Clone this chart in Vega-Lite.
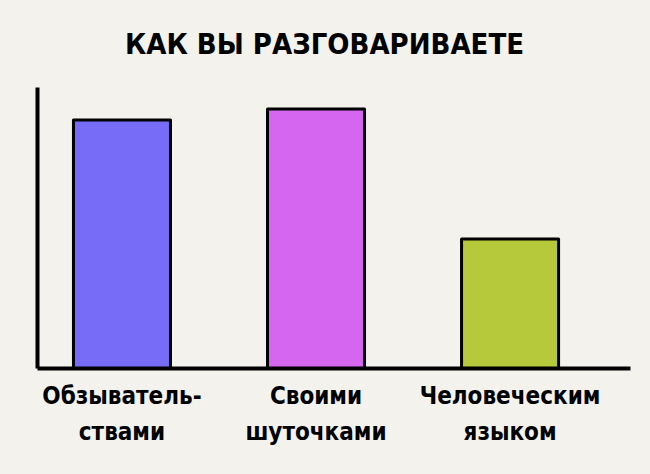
{
  "$schema": "https://vega.github.io/schema/vega-lite/v6.json",
  "width": 593,
  "height": 281,
  "autosize": {"type": "none"},
  "padding": {"left": 37, "top": 87, "right": 20, "bottom": 106},
  "background": "#f4f2ed",
  "title": {
    "text": "КАК ВЫ РАЗГОВАРИВАЕТЕ",
    "font": "DejaVu Sans Condensed",
    "fontSize": 29,
    "fontWeight": "bold",
    "color": "#000000",
    "anchor": "middle",
    "dx": -9,
    "offset": 27
  },
  "data": {
    "values": [
      {"category": "Обзыватель-\nствами", "value": 88.3},
      {"category": "Своими\nшуточками", "value": 92.2},
      {"category": "Человеческим\nязыком", "value": 45.9}
    ]
  },
  "mark": {"type": "bar", "stroke": "#000000", "strokeWidth": 3, "strokeJoin": "round"},
  "encoding": {
    "x": {
      "field": "category",
      "type": "nominal",
      "sort": null,
      "title": null,
      "scale": {"paddingInner": 0.5, "paddingOuter": 0.278, "align": 0.338},
      "axis": {
        "domainColor": "#000000",
        "domainWidth": 4,
        "ticks": false,
        "labelAngle": 0,
        "labelFont": "DejaVu Sans Condensed",
        "labelFontWeight": "bold",
        "labelFontSize": 24,
        "labelColor": "#000000",
        "labelPadding": 16,
        "labelLineHeight": 36,
        "labelLimit": 0,
        "labelOverlap": false,
        "labelExpr": "split(datum.label, '\\n')"
      }
    },
    "y": {
      "field": "value",
      "type": "quantitative",
      "scale": {"domain": [0, 100]},
      "axis": {
        "title": null,
        "grid": false,
        "ticks": false,
        "labels": false,
        "domainColor": "#000000",
        "domainWidth": 4
      }
    },
    "color": {
      "field": "category",
      "type": "nominal",
      "sort": null,
      "scale": {"range": ["#766cf8", "#d466ef", "#b5c93a"]},
      "legend": null
    }
  },
  "config": {
    "view": {"stroke": null}
  }
}
